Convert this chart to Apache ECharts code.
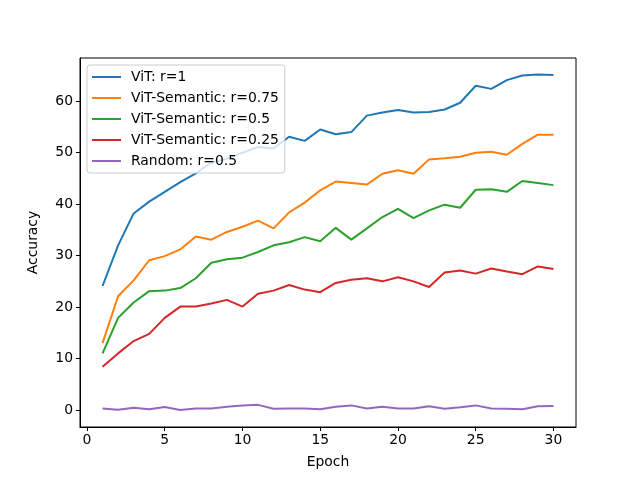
<!DOCTYPE html>
<html>
<head>
<meta charset="utf-8">
<script src="https://cdn.jsdelivr.net/npm/echarts@6/dist/echarts.min.js"></script>
<style>
html, body { margin: 0; padding: 0; background: #fff; }
#main { width: 640px; height: 480px; }
</style>
</head>
<body>
<div id="main"></div>
<script>
var epochs = [];
for (var i = 1; i <= 30; i++) epochs.push(i);

var vit = [24.1, 32.0, 38.2, 40.5, 42.4, 44.3, 46.0, 48.1, 48.8, 50.0, 51.1, 50.8, 53.1, 52.3, 54.5,
           53.6, 54.0, 57.2, 57.8, 58.3, 57.8, 57.9, 58.4, 59.7, 63.0, 62.4, 64.1, 65.0, 65.2, 65.1];
var sem075 = [13.0, 22.1, 25.2, 29.1, 29.9, 31.2, 33.7, 33.1, 34.6, 35.6, 36.8, 35.3, 38.4, 40.3, 42.7,
              44.4, 44.1, 43.8, 45.9, 46.6, 45.9, 48.7, 48.9, 49.2, 50.0, 50.2, 49.6, 51.7, 53.5, 53.5];
var sem05 = [11.0, 17.9, 20.9, 23.1, 23.2, 23.7, 25.6, 28.6, 29.3, 29.6, 30.7, 32.0, 32.6, 33.6, 32.8,
             35.4, 33.1, 35.3, 37.5, 39.1, 37.3, 38.8, 39.9, 39.3, 42.8, 42.9, 42.4, 44.5, 44.1, 43.7];
var sem025 = [8.4, 11.0, 13.4, 14.8, 17.9, 20.1, 20.1, 20.7, 21.4, 20.1, 22.6, 23.2, 24.3, 23.4, 22.9,
              24.7, 25.3, 25.6, 25.0, 25.8, 25.0, 23.9, 26.7, 27.1, 26.5, 27.5, 26.9, 26.4, 27.9, 27.4];
var random05 = [0.3, 0.05, 0.45, 0.15, 0.6, 0.0, 0.3, 0.3, 0.65, 0.9, 1.0, 0.25, 0.3, 0.3, 0.15,
                0.65, 0.9, 0.3, 0.65, 0.3, 0.3, 0.75, 0.25, 0.55, 0.9, 0.3, 0.25, 0.15, 0.75, 0.8];

var names = ['ViT: r=1', 'ViT-Semantic: r=0.75', 'ViT-Semantic: r=0.5', 'ViT-Semantic: r=0.25', 'Random: r=0.5'];
var colors = ['#1f77b4', '#ff7f0e', '#2ca02c', '#d62728', '#9467bd'];
var xTicks = [0, 5, 10, 15, 20, 25, 30];
var yTicks = [0, 10, 20, 30, 40, 50, 60];

function pairs(vals) {
    return epochs.map(function (e, k) { return [e, vals[k]]; });
}

var font = 'DejaVu Sans';
var fs = 13.9;
var myChart = echarts.init(document.getElementById('main'));

var series = [vit, sem075, sem05, sem025, random05].map(function (vals, k) {
    return {
        name: names[k],
        type: 'line',
        data: pairs(vals),
        symbol: 'none',
        lineStyle: { width: 2, color: colors[k] },
        itemStyle: { color: colors[k] },
        animation: false
    };
});

var option = {
    color: colors,
    animation: false,
    textStyle: { fontFamily: font },
    grid: {
        left: 80, right: 64, top: 58, bottom: 53,
        show: true, borderColor: '#000', borderWidth: 1, backgroundColor: 'transparent'
    },
    legend: {
        orient: 'vertical',
        left: 87, top: 65,
        padding: [5, 6, 5, 5],
        icon: 'rect',
        itemWidth: 29, itemHeight: 2,
        itemGap: 7,
        backgroundColor: 'rgba(255,255,255,0.8)',
        borderColor: '#cccccc', borderWidth: 1, borderRadius: 3,
        textStyle: { fontFamily: font, fontSize: fs, color: '#000', padding: [0, 0, 0, 5], lineHeight: 14 },
        data: names
    },
    xAxis: {
        type: 'value',
        min: -0.45, max: 31.45,
        name: 'Epoch', nameLocation: 'middle', nameGap: 28,
        nameTextStyle: { fontFamily: font, fontSize: fs, color: '#000' },
        splitLine: { show: false },
        axisLine: { show: true, onZero: false, lineStyle: { color: '#000' } },
        axisTick: { show: true, length: 4, lineStyle: { color: '#000' }, customValues: xTicks },
        axisLabel: { color: '#000', fontSize: fs, fontFamily: font, margin: 6, customValues: xTicks }
    },
    yAxis: {
        type: 'value',
        min: -3.3, max: 68.4,
        name: 'Accuracy', nameLocation: 'middle', nameGap: 40,
        nameTextStyle: { fontFamily: font, fontSize: fs, color: '#000' },
        splitLine: { show: false },
        axisLine: { show: true, onZero: false, lineStyle: { color: '#000' } },
        axisTick: { show: true, length: 4, lineStyle: { color: '#000' }, customValues: yTicks },
        axisLabel: { color: '#000', fontSize: fs, fontFamily: font, margin: 7, customValues: yTicks }
    },
    series: series
};

myChart.setOption(option);
</script>
</body>
</html>
